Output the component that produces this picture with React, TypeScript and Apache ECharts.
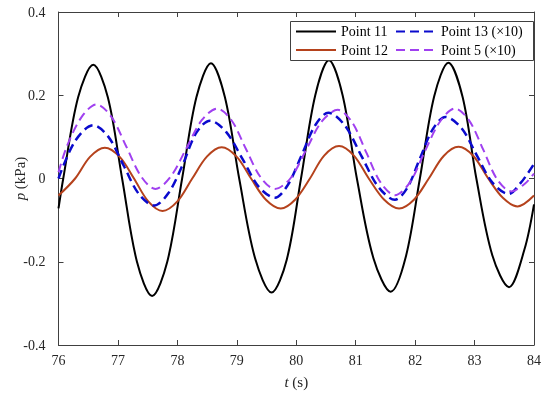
import React, { useEffect, useRef } from "react";
import * as echarts from "echarts";

// Point 11 (kPa)
const p11T = [76.0, 76.08, 76.33, 76.585, 76.83, 77.07, 77.32, 77.575, 77.83, 78.08, 78.32, 78.565, 78.8, 79.04, 79.31, 79.585, 79.84, 80.08, 80.32, 80.55, 80.78, 81.02, 81.3, 81.59, 81.84, 82.08, 82.32, 82.56, 82.8, 83.03, 83.3, 83.58, 83.84, 84.0];
const p11V = [-0.072, 0, 0.195, 0.273, 0.195, 0, -0.2, -0.282, -0.2, 0, 0.195, 0.277, 0.195, 0, -0.193, -0.274, -0.195, 0, 0.2, 0.284, 0.2, 0, -0.192, -0.272, -0.19, 0, 0.197, 0.278, 0.195, 0, -0.185, -0.261, -0.17, -0.062];

// Point 12 (kPa)
const p12T = [76.0, 76.28, 76.53, 76.78, 77.03, 77.27, 77.51, 77.75, 78.0, 78.25, 78.5, 78.745, 79.0, 79.24, 79.49, 79.74, 79.98, 80.23, 80.47, 80.72, 80.97, 81.22, 81.48, 81.73, 81.98, 82.23, 82.48, 82.73, 82.98, 83.23, 83.48, 83.725, 84.0];
const p12V = [-0.041, 0, 0.052, 0.074, 0.052, 0, -0.055, -0.078, -0.055, 0, 0.053, 0.075, 0.052, 0, -0.051, -0.072, -0.051, 0, 0.055, 0.078, 0.055, 0, -0.051, -0.072, -0.051, 0, 0.054, 0.076, 0.054, 0, -0.047, -0.067, -0.041];

// Point 13 (x10)
const p13T = [76.0, 76.28, 76.585, 76.84, 77.1, 77.35, 77.61, 77.85, 78.08, 78.32, 78.55, 78.82, 79.1, 79.37, 79.64, 79.86, 80.09, 80.32, 80.54, 80.82, 81.1, 81.38, 81.66, 81.87, 82.08, 82.3, 82.51, 82.78, 83.04, 83.3, 83.57, 83.78, 84.0];
const p13V = [0.0, 0.09, 0.128, 0.1, 0.03, -0.037, -0.065, -0.035, 0.03, 0.11, 0.139, 0.112, 0.046, -0.02, -0.046, -0.015, 0.056, 0.128, 0.158, 0.127, 0.053, -0.02, -0.051, -0.022, 0.048, 0.119, 0.148, 0.121, 0.055, -0.01, -0.037, -0.01, 0.035];

// Point 5 (x10)
const p5T = [76.0, 76.14, 76.39, 76.64, 76.89, 77.14, 77.39, 77.63, 77.88, 78.15, 78.41, 78.67, 78.91, 79.15, 79.4, 79.64, 79.9, 80.17, 80.43, 80.7, 80.94, 81.18, 81.42, 81.66, 81.91, 82.16, 82.42, 82.67, 82.91, 83.15, 83.38, 83.62, 83.85, 84.0];
const p5V = [0.015, 0.077, 0.148, 0.178, 0.148, 0.077, 0.005, -0.025, 0.003, 0.072, 0.14, 0.168, 0.14, 0.072, 0.003, -0.025, 0.0, 0.07, 0.137, 0.165, 0.135, 0.062, -0.01, -0.04, -0.01, 0.064, 0.137, 0.168, 0.139, 0.068, -0.002, -0.031, -0.012, 0.012];

const xTicks = { min: 76, max: 84, interval: 1 };
const yTicks = { min: -0.4, max: 0.4, interval: 0.2 };

const zip = (t: number[], v: number[]) => t.map((x, i) => [x, v[i]]);

const FONT = "'Liberation Serif', 'Times New Roman', serif";
const AX = "#404040";
const TXT = "#262626";

export default function App() {
  const ref = useRef<HTMLDivElement>(null);
  useEffect(() => {
    if (!ref.current) return;
    const chart = echarts.init(ref.current, null, { renderer: "svg" });
    const tickStyle = { show: true, inside: true, length: 5, lineStyle: { color: AX, width: 1 } };
    const lineStyleAxis = { show: true, onZero: false, lineStyle: { color: AX, width: 1 } };
    const mk = (name: string, data: number[][], color: string, width: number, dashed?: number[]) => ({
      name,
      type: "line",
      data,
      xAxisIndex: 0,
      yAxisIndex: 0,
      symbol: "none",
      smooth: 0.33,
      lineStyle: { color, width, type: dashed ? dashed : "solid" },
      itemStyle: { color },
      z: 2,
    });
    const legendCommon = {
      orient: "vertical",
      top: 24.5,
      padding: 0,
      itemWidth: 40,
      itemHeight: 14,
      itemGap: 4.5,
      z: 10,
      itemStyle: { opacity: 0 },
      textStyle: { fontFamily: FONT, fontSize: 14, color: "#000" },
    };
    chart.setOption({
      animation: false,
      textStyle: { fontFamily: FONT },
      grid: { left: 58.5, right: 16, top: 12, bottom: 52, outerBoundsMode: "none", containLabel: false },
      xAxis: [
        {
          type: "value",
          ...xTicks,
          position: "bottom",
          axisLine: lineStyleAxis,
          axisTick: tickStyle,
          splitLine: { show: false },
          axisLabel: { fontFamily: FONT, fontSize: 14, color: TXT, margin: 8 },
          name: "{i|t} (s)",
          nameLocation: "middle",
          nameGap: 29,
          nameMoveOverlap: false,
          nameTextStyle: {
            fontFamily: FONT,
            fontSize: 15,
            color: TXT,
            rich: { i: { fontFamily: FONT, fontSize: 15, fontStyle: "italic", color: TXT } },
          },
        },
        {
          type: "value",
          ...xTicks,
          position: "top",
          axisLine: lineStyleAxis,
          axisTick: tickStyle,
          splitLine: { show: false },
          axisLabel: { show: false },
        },
      ],
      yAxis: [
        {
          type: "value",
          ...yTicks,
          position: "left",
          axisLine: lineStyleAxis,
          axisTick: tickStyle,
          splitLine: { show: false },
          axisLabel: { fontFamily: FONT, fontSize: 14, color: TXT, margin: 13 },
          name: "{i|p} (kPa)",
          nameLocation: "middle",
          nameGap: 31,
          nameMoveOverlap: false,
          nameTextStyle: {
            fontFamily: FONT,
            fontSize: 15,
            color: TXT,
            rich: { i: { fontFamily: FONT, fontSize: 15, fontStyle: "italic", color: TXT } },
          },
        },
        {
          type: "value",
          ...yTicks,
          position: "right",
          axisLine: lineStyleAxis,
          axisTick: tickStyle,
          splitLine: { show: false },
          axisLabel: { show: false },
        },
      ],
      legend: [
        { ...legendCommon, data: ["Point 11", "Point 12"], left: 295 },
        { ...legendCommon, data: ["Point 13 (×10)", "Point 5 (×10)"], left: 395 },
      ],
      graphic: [
        {
          type: "rect",
          left: 290,
          top: 21,
          shape: { width: 243, height: 39 },
          style: { fill: "#fff", stroke: AX, lineWidth: 1 },
          z: 5,
        },
      ],
      series: [
        mk("Point 11", zip(p11T, p11V), "#000000", 2),
        mk("Point 12", zip(p12T, p12V), "#B5421C", 2),
        mk("Point 13 (×10)", zip(p13T, p13V), "#0A0ACD", 2.5, [9, 5]),
        mk("Point 5 (×10)", zip(p5T, p5V), "#A040F0", 2, [9, 5]),
      ],
    });
    return () => chart.dispose();
  }, []);
  return (
    <div
      ref={ref}
      style={{ position: "fixed", left: 0, top: 0, width: 550, height: 397 }}
    />
  );
}
